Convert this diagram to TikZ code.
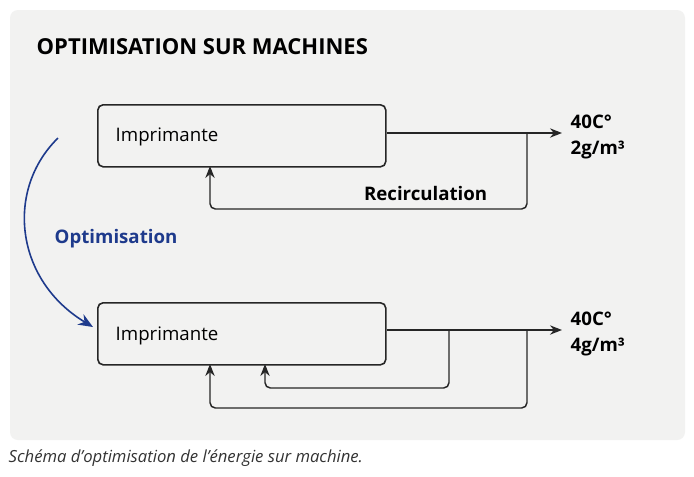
\documentclass[tikz,border=0pt]{standalone}
\usepackage{fontspec}
\setmainfont{Open Sans}
\usetikzlibrary{arrows.meta}
\definecolor{panel}{RGB}{242,242,241}
\definecolor{optblue}{RGB}{30,58,140}
\newlength{\px}\setlength{\px}{0.75pt}
\tikzset{
  machine/.style={draw=black!85, line width=1.2pt, rounded corners=4pt, minimum width=288\px, minimum height=62\px, anchor=north west, inner sep=0pt},
  flux/.style={line width=1.1pt, draw=black!85, rounded corners=4pt, -{Stealth[length=9pt,width=7pt]}},
  label/.style={font=\bfseries\fontsize{14}{20}\selectfont, anchor=west, align=left}
}
\begin{document}
\begin{tikzpicture}[x=0.75pt,y=-0.75pt]
\useasboundingbox (0,0) rectangle (694,476);
\fill[white] (0,0) rectangle (694,476);
\fill[panel, rounded corners=6pt] (10,10) rectangle (685,440);

\node[anchor=west, font=\bfseries\fontsize{16.5}{18}\selectfont] (titre) at (32,47) {OPTIMISATION SUR MACHINES};

% machine avant
\node[machine] (m1) at (97,104) {};
\node[anchor=west, font=\fontsize{14}{16}\selectfont] (t1) at (111,137) {Imprimante};
\coordinate (s1) at (562,133);
\draw[flux] (m1.east |- 0,133) -- (s1);
\draw[flux] (527,133) -- (527,209) -- (210,209) -- (210,166);
\node[label, anchor=east] (rec) at (492,193) {Recirculation};
\node[label] (v1) at (566,137) {40C°\\2g/m³};

% optimisation
\node[anchor=west, font=\bfseries\fontsize{14}{16}\selectfont, text=optblue] (opt) at (50,239) {Optimisation};
\draw[optblue, line width=1.2pt, -{Stealth[length=11pt,width=9pt]}] (58,138) .. controls (5,190) and (15,280) .. (93,327);

% machine apres
\node[machine] (m2) at (97,302) {};
\node[anchor=west, font=\fontsize{14}{16}\selectfont] (t2) at (111,336) {Imprimante};
\coordinate (s2) at (562,330);
\draw[flux] (m2.east |- 0,330) -- (s2);
\draw[flux] (449,330) -- (449,388) -- (265,388) -- (265,364);
\draw[flux] (527,330) -- (527,408) -- (210,408) -- (210,364);
\node[label] (v2) at (566,334) {40C°\\4g/m³};

\node[anchor=west, font=\itshape\fontsize{12.5}{14}\selectfont, text=black!80] (legende) at (4,458) {Schéma d’optimisation de l’énergie sur machine.};
\end{tikzpicture}
\end{document}
